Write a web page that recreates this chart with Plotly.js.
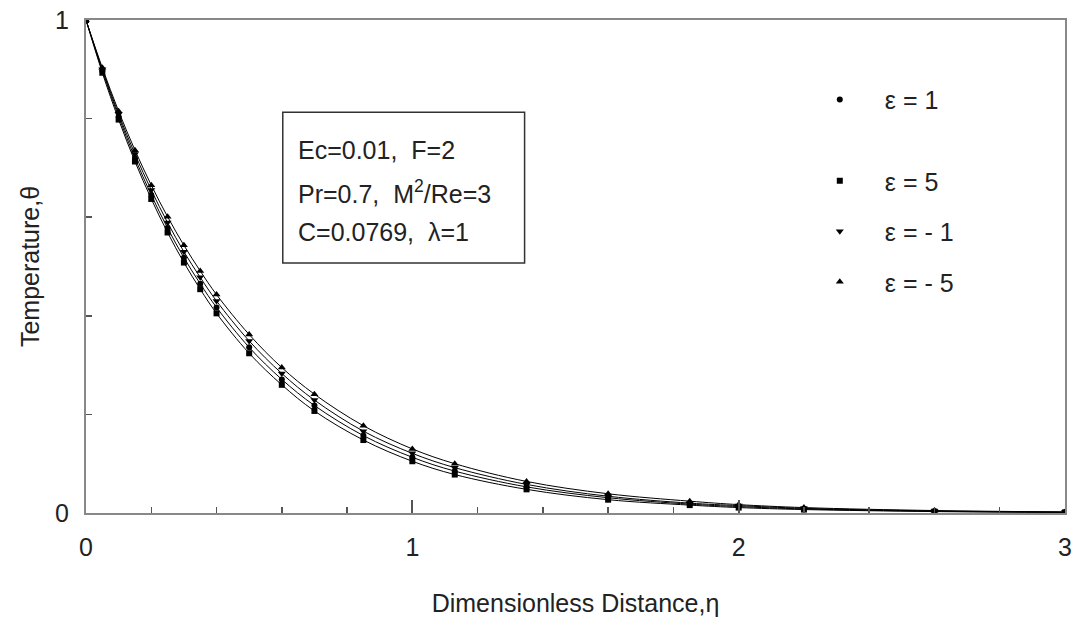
<!DOCTYPE html>
<html><head><meta charset="utf-8">
<script src="https://cdn.plot.ly/plotly-3.0.1.min.js"></script>
<style>html,body{margin:0;padding:0;background:#fff}</style>
</head><body>
<div id="chart" style="width:1073px;height:628px"></div>
<script>
// Dimensionless distance (eta) sample points
const eta = [0, 0.05, 0.1, 0.15, 0.2, 0.25, 0.3, 0.35, 0.4, 0.5, 0.6, 0.7, 0.85, 1.0, 1.13, 1.35, 1.6, 1.85, 2.0, 2.2, 2.6, 3.0];
// Temperature theta for each epsilon
const thetaEpsNeg5 = [1, 0.903, 0.815, 0.736, 0.665, 0.601, 0.543, 0.491, 0.443, 0.362, 0.295, 0.241, 0.177, 0.130, 0.100, 0.064, 0.039, 0.024, 0.017, 0.011, 0.0050, 0.0022];
const thetaEpsNeg1 = [1, 0.900, 0.809, 0.728, 0.655, 0.589, 0.530, 0.478, 0.430, 0.349, 0.283, 0.229, 0.166, 0.121, 0.092, 0.058, 0.034, 0.020, 0.015, 0.0095, 0.0042, 0.0018];
const thetaEps1    = [1, 0.897, 0.804, 0.720, 0.645, 0.578, 0.518, 0.465, 0.417, 0.336, 0.271, 0.218, 0.157, 0.113, 0.085, 0.053, 0.031, 0.018, 0.013, 0.0082, 0.0035, 0.0015];
const thetaEps5    = [1, 0.893, 0.798, 0.713, 0.637, 0.569, 0.508, 0.454, 0.405, 0.324, 0.260, 0.207, 0.148, 0.105, 0.078, 0.048, 0.027, 0.016, 0.011, 0.0070, 0.0029, 0.0012];

const seriesNames = ['ε = 1', 'ε = 5', 'ε = - 1', 'ε = - 5'];
const seriesData = [thetaEps1, thetaEps5, thetaEpsNeg1, thetaEpsNeg5];
const seriesSymbols = ['circle', 'square', 'triangle-down', 'triangle-up'];
const seriesSizes = [6, 6, 7, 7];

const FONT = '"Liberation Sans", Arial, sans-serif';
const traces = [];
seriesData.forEach((y, i) => {
  traces.push({x: eta, y: y, type: 'scatter', mode: 'lines', line: {color: '#000', width: 1, shape: 'spline'}, showlegend: false, hoverinfo: 'skip'});
});
seriesData.forEach((y, i) => {
  traces.push({x: eta, y: y, type: 'scatter', mode: 'markers', name: seriesNames[i],
    marker: {color: '#000', size: seriesSizes[i], symbol: seriesSymbols[i]},
    legend: i === 0 ? 'legend' : 'legend2', legendgroup: 'g' + i});
});

const layout = {
  width: 1073, height: 628,
  margin: {l: 86, r: 8, t: 20, b: 115},
  paper_bgcolor: '#fff', plot_bgcolor: '#fff',
  font: {family: FONT, size: 25, color: '#222'},
  xaxis: {
    range: [0, 3], dtick: 1, tick0: 0, ticks: 'inside', ticklen: 13, tickwidth: 2, tickcolor: '#555',
    minor: {dtick: 0.2, ticks: 'inside', ticklen: 6, tickwidth: 1.5, tickcolor: '#555'},
    showline: true, linecolor: '#888', linewidth: 2, mirror: true, showgrid: false, zeroline: false,
    ticklabelstandoff: 11,
    title: {text: 'Dimensionless Distance,η', font: {family: FONT, size: 25, color: '#222'}, standoff: 34}
  },
  yaxis: {
    range: [0, 1], dtick: 1, tick0: 0, ticks: 'inside', ticklen: 13, tickwidth: 2, tickcolor: '#555',
    minor: {dtick: 0.2, ticks: 'inside', ticklen: 6, tickwidth: 1.5, tickcolor: '#555'},
    showline: true, linecolor: '#888', linewidth: 2, mirror: true, showgrid: false, zeroline: false,
    ticklabelstandoff: 10,
    title: {text: 'Temperature,θ', font: {family: FONT, size: 25, color: '#222'}, standoff: 8}
  },
  legend: {x: 0.724, y: 0.885, xanchor: 'left', yanchor: 'top', bgcolor: 'rgba(0,0,0,0)', borderwidth: 0,
    font: {family: FONT, size: 25, color: '#222'}, itemwidth: 80},
  legend2: {x: 0.724, y: 0.72, xanchor: 'left', yanchor: 'top', bgcolor: 'rgba(0,0,0,0)', borderwidth: 0,
    font: {family: FONT, size: 25, color: '#222'}, itemwidth: 80, tracegroupgap: 15},
  shapes: [
    {type: 'rect', xref: 'paper', yref: 'paper', x0: 0.201, x1: 0.448, y0: 0.507, y1: 0.813,
     line: {color: '#333', width: 1.5}, fillcolor: 'rgba(255,255,255,0)'}
  ],
  annotations: [
    {xref: 'paper', yref: 'paper', x: 0.2145, y: 0.736, xanchor: 'left', yanchor: 'middle', showarrow: false,
     text: 'Ec=0.01,\u00a0\u00a0F=2', font: {family: FONT, size: 25, color: '#222'}},
    {xref: 'paper', yref: 'paper', x: 0.2145, y: 0.651, xanchor: 'left', yanchor: 'middle', showarrow: false,
     text: 'Pr=0.7,\u00a0\u00a0M<sup>2</sup>/Re=3', font: {family: FONT, size: 25, color: '#222'}},
    {xref: 'paper', yref: 'paper', x: 0.2145, y: 0.570, xanchor: 'left', yanchor: 'middle', showarrow: false,
     text: 'C=0.0769,\u00a0\u00a0λ=1', font: {family: FONT, size: 25, color: '#222'}}
  ]
};

Plotly.newPlot('chart', traces, layout, {displayModeBar: false, staticPlot: true});
</script>
</body></html>
